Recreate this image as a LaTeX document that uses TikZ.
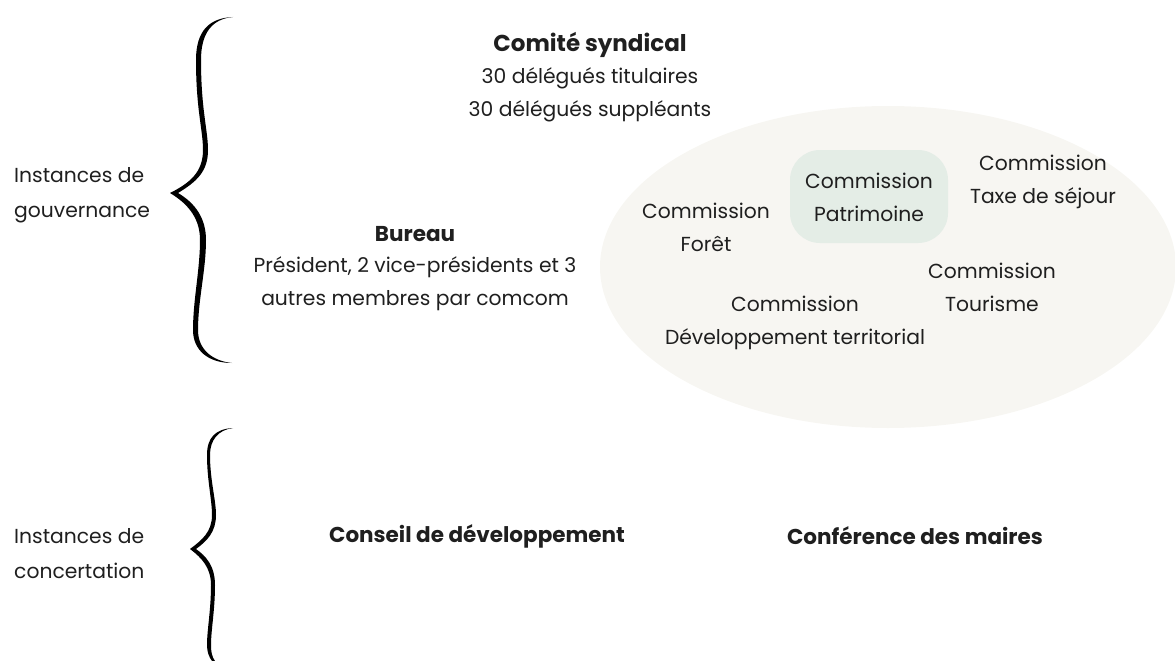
\documentclass[tikz,border=0pt]{standalone}
\usepackage{fontspec}
\setmainfont{Poppins}
\definecolor{txt}{HTML}{1F1F1F}
\definecolor{ellfill}{HTML}{F7F6F2}
\definecolor{boxfill}{HTML}{E4EDE6}
\begin{document}
\begin{tikzpicture}[x=1pt,y=-1pt,
  lbl/.style={inner sep=0pt,align=center,text=txt,font={\fontsize{20.3}{33}\selectfont}},
  lbll/.style={inner sep=0pt,align=left,anchor=west,text=txt,font={\fontsize{20.3}{35}\selectfont}},
  ttl/.style={inner sep=0pt,text=txt,font={\fontsize{21.5}{33}\selectfont\bfseries}},
  brace/.style={fill=black,draw=none}]
\useasboundingbox (0,0) rectangle (1175,661);
\clip (0,0) rectangle (1175,661);
% commissions ellipse
\fill[ellfill] (888,267) ellipse [x radius=288, y radius=161];
\fill[boxfill,rounded corners=30pt] (790,150) rectangle (948,243);
% braces
\path[brace] (233,17) .. controls (210,18) and (196,30) .. (196,60)
  .. controls (196,110) and (203,130) .. (203,150)
  .. controls (203,172) and (190,183) .. (170,193)
  .. controls (190,205) and (200,220) .. (200,240)
  .. controls (200,270) and (193,300) .. (193,330)
  .. controls (193,350) and (208,363) .. (232,363)
  .. controls (213,361) and (198,350) .. (198,330)
  .. controls (198,300) and (206,270) .. (206,240)
  .. controls (206,218) and (195,203) .. (178,193)
  .. controls (196,182) and (208,172) .. (208,150)
  .. controls (208,130) and (201,110) .. (201,60)
  .. controls (201,33) and (212,19) .. (233,17) -- cycle;
\path[brace] (233,428) .. controls (215,429) and (207,438) .. (207,455)
  .. controls (207,480) and (212,500) .. (212,515)
  .. controls (212,532) and (202,540) .. (190,549)
  .. controls (202,558) and (211,568) .. (211,585)
  .. controls (211,610) and (207,630) .. (207,645)
  .. controls (207,652) and (209,657) .. (212,661)
  -- (215,661)
  .. controls (212,657) and (211,652) .. (211,645)
  .. controls (211,630) and (215,610) .. (215,585)
  .. controls (215,566) and (206,556) .. (196,549)
  .. controls (207,541) and (216,532) .. (216,515)
  .. controls (216,500) and (210,480) .. (210,455)
  .. controls (210,440) and (218,430) .. (233,428) -- cycle;
% left labels
\node[lbll] (gouv) at (14,195) {Instances de\\gouvernance};
\node[lbll] (conc) at (14,554) {Instances de\\concertation};
% governance
\node[ttl,font={\fontsize{23}{33}\selectfont\bfseries}] (comite) at (590,45) {Comité syndical};
\node[lbl] (comited) at (590,95) {30 délégués titulaires\\30 délégués suppléants};
\node[ttl] (bureau) at (415,234) {Bureau};
\node[lbl] (bureaud) at (415,284) {Président, 2 vice-présidents et 3\\autres membres par comcom};
% commissions
\node[lbl] (foret) at (706,227) {Commission\\Forêt};
\node[lbl] (patri) at (869,197) {Commission\\Patrimoine};
\node[lbl] (taxe) at (1043,182) {Commission\\Taxe de séjour};
\node[lbl] (tour) at (992,287) {Commission\\Tourisme};
\node[lbl] (dev) at (795,323) {Commission\\Développement territorial};
% concertation
\node[ttl] (conseil) at (477,536) {Conseil de développement};
\node[ttl] (maires) at (915,536) {Conférence des maires};
\end{tikzpicture}
\end{document}
